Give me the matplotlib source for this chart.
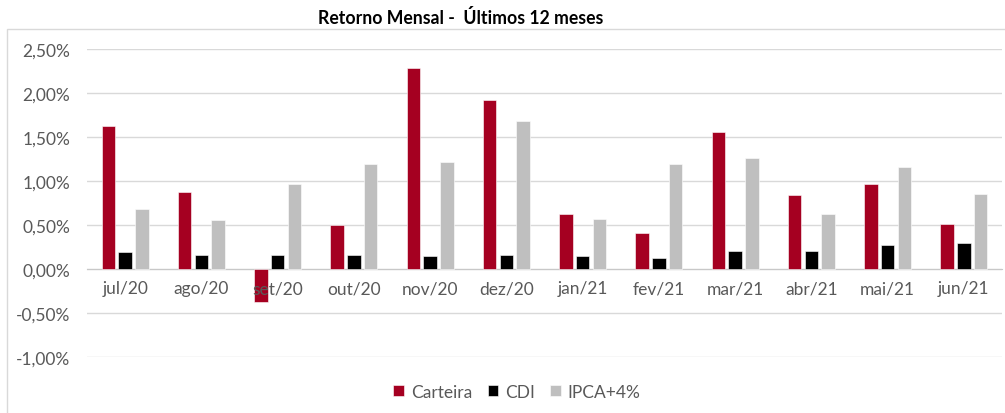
"""Retorno mensal - ultimos 12 meses (Carteira x CDI x IPCA+4%)."""

import matplotlib

matplotlib.use("Agg")
import matplotlib.pyplot as plt
import numpy as np
from matplotlib.patches import Rectangle
from matplotlib.ticker import FuncFormatter

months = ["jul/20", "ago/20", "set/20", "out/20", "nov/20", "dez/20",
          "jan/21", "fev/21", "mar/21", "abr/21", "mai/21", "jun/21"]
carteira = [1.62, 0.87, -0.38, 0.50, 2.28, 1.92, 0.63, 0.41, 1.56, 0.84, 0.97, 0.51]
cdi = [0.19, 0.16, 0.16, 0.16, 0.15, 0.16, 0.15, 0.13, 0.20, 0.20, 0.27, 0.30]
ipca4 = [0.68, 0.56, 0.97, 1.19, 1.22, 1.68, 0.57, 1.19, 1.26, 0.63, 1.16, 0.85]

series_names = ["Carteira", "CDI", "IPCA+4%"]
colors = ["#A50021", "#000000", "#BFBFBF"]

plt.rcParams["font.family"] = ["Lato", "DejaVu Sans"]
TXT = "#595959"

fig = plt.figure(figsize=(10.05, 4.14), dpi=100)
ax = fig.add_axes([87 / 1005, 56 / 414, 915 / 1005, 308 / 414])

# outer chart frame (Excel chart area border)
fig.patches.append(Rectangle((7 / 1005, -0.1), 1.2, 1 - 30 / 414 + 0.1,
                             transform=fig.transFigure, fill=False,
                             edgecolor="#D9D9D9", linewidth=1.0))

x = np.arange(len(months))
width = 0.175
step = 0.22
for k, (vals, name, c) in enumerate(zip([carteira, cdi, ipca4], series_names, colors)):
    ax.bar(x + (k - 1) * step, vals, width, color=c, label=name,
           edgecolor="white", linewidth=0.4, zorder=3)

ax.set_xlim(-0.5, len(months) - 0.5)
ax.set_ylim(-1.0, 2.5)
ax.set_yticks(np.arange(-1.0, 2.51, 0.5))
ax.yaxis.set_major_formatter(FuncFormatter(lambda v, _: f"{v:.2f}%".replace(".", ",")))
ax.set_axisbelow(True)
ax.grid(axis="y", color="#D9D9D9", linewidth=1.0)

for s in ["top", "right", "left"]:
    ax.spines[s].set_visible(False)
ax.spines["bottom"].set_position(("data", 0))
ax.spines["bottom"].set_color("#C8C8C8")

# category labels sit next to the zero line, drawn over the bars (as in Excel)
ax.set_xticks(x)
ax.set_xticklabels([])
ax.tick_params(axis="x", length=0)
for i, m in enumerate(months):
    ax.annotate(m, (i, 0), xytext=(0, -8), textcoords="offset points",
                ha="center", va="top", fontsize=12.5, color=TXT, zorder=5)
ax.tick_params(axis="y", length=0, pad=12, labelsize=12.5, labelcolor=TXT)

fig.text(461 / 1005, 1 - 18 / 414, "Retorno Mensal -  Últimos 12 meses",
         ha="center", va="center", fontsize=12.7, fontweight="bold", color="#000000")

leg = fig.legend(loc="center", bbox_to_anchor=(517 / 1005, 1 - 393 / 414), ncol=3,
                 frameon=False, fontsize=12.5, handlelength=0.6, handleheight=0.6,
                 handletextpad=0.4, columnspacing=0.9, labelcolor=TXT)

fig.savefig("out.png", dpi=100)
